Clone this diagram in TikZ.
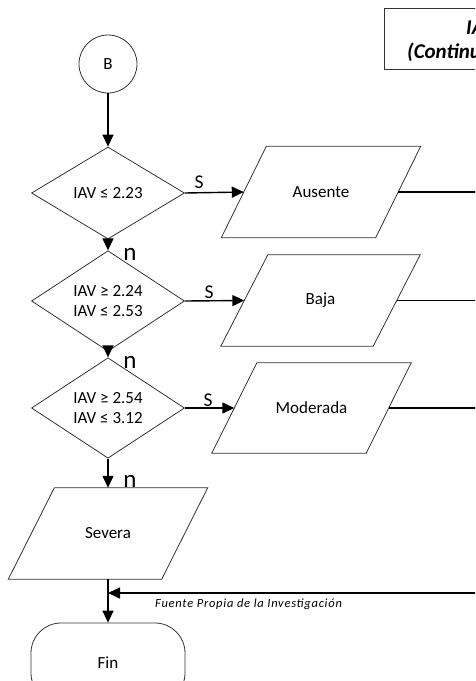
\documentclass[tikz,border=0pt]{standalone}
\usepackage{fontspec}
\setmainfont{Carlito}
\newfontfamily\srcfont[LetterSpace=6]{Carlito}
\usetikzlibrary{shapes.geometric,arrows.meta,calc}

% outline of a data (input/output) box drawn around a plain rectangle node
\newcommand\slantframe[2]{%
  \draw[outline] ([xshift=#2]#1.north west) -- (#1.north east)
    -- ([xshift=-#2]#1.south east) -- (#1.south west) -- cycle;}

\begin{document}
\begin{tikzpicture}[x=1pt,y=-1pt,
  outline/.style={draw=black!80, line width=0.8pt},
  flow/.style={line width=1.4pt, -{Triangle[length=12pt,width=11pt]}},
  wire/.style={line width=1.6pt},
  txt/.style={font=\fontsize{17}{20}\selectfont},
  decision/.style={outline, shape=diamond, minimum width=153pt,
    minimum height=92pt, inner sep=0pt, align=center, txt},
  databox/.style={minimum width=199pt, minimum height=91pt, inner sep=0pt, txt},
  lbl/.style={font=\fontsize{19.5}{22}\selectfont, inner sep=0pt},
  branch/.style={font=\fontsize{25}{25}\selectfont, inner sep=0pt},
]
\useasboundingbox (0,0) rectangle (475,681);
\clip (0,0) rectangle (475,681);

% heading box
\node[draw=black!80, line width=1.3pt, minimum width=200pt, minimum height=61pt,
  anchor=north west] (head) at (384,8) {};
\node[anchor=west, inner sep=0pt, font=\fontsize{21}{24}\selectfont\bfseries\itshape]
  (head1) at (466,28) {IAV};
\node[anchor=west, inner sep=0pt, font=\fontsize{21}{24}\selectfont\bfseries\itshape]
  (head2) at (407,52) {(Continuación)};

% main column
\node[outline, circle, minimum size=58pt, inner sep=0pt, txt] (b) at (108,64) {B};
\node[decision] (d1) at (108,193) {IAV ≤ 2.23};
\node[decision] (d2) at (108,301) {IAV ≥ 2.24\\IAV ≤ 2.53};
\node[decision] (d3) at (108,408) {IAV ≥ 2.54\\IAV ≤ 3.12};
\node[databox] (sev) at (108,533.5) {Severa};
\slantframe{sev}{46pt}
\node[outline, rounded corners=30pt, minimum width=154pt, minimum height=80pt,
  inner sep=0pt, txt] (fin) at (108,663) {Fin};

% result boxes
\node[databox] (aus) at (321,192) {Ausente};
\slantframe{aus}{45pt}
\node[databox] (baja) at (320.5,300.5) {Baja};
\slantframe{baja}{47pt}
\node[databox, minimum height=90pt] (mod) at (311.5,408) {Moderada};
\slantframe{mod}{45pt}

% vertical flow
\draw[flow] (b.south) -- (d1.north);
\draw[flow] (d1.south) -- (d2.north);
\draw[flow] (d2.south) -- (d3.north);
\draw[flow] (d3.south) -- (sev.north);
\draw[flow] (sev.south) -- (fin.north);
\node[branch] (n1) at (130,254) {n};
\node[branch] (n2) at (130,362) {n};
\node[branch] (n3) at (130,481) {n};

% yes branches
\draw[flow] (d1.east) -- ([xshift=22.5pt]aus.west);
\draw[flow] (d2.east) -- ([xshift=23.5pt]baja.west);
\draw[flow] (d3.east) -- ([xshift=22.5pt]mod.west);
\node[lbl] (s1) at (199,182) {S};
\node[lbl] (s2) at (209,292) {S};
\node[lbl] (s3) at (208,400) {S};

% return lines to the end
\coordinate (rail) at (490,593);
\coordinate (join) at (108,593);
\draw[wire] ([xshift=-22.5pt]aus.east) -- (aus.east -| rail) -- (rail);
\draw[wire] ([xshift=-23.5pt]baja.east) -- (baja.east -| rail);
\draw[wire] ([xshift=-22.5pt]mod.east) -- (mod.east -| rail);
\draw[flow] (rail) -- (join);

\node[anchor=west, inner sep=0pt, font=\srcfont\fontsize{12.5}{14}\selectfont\itshape]
  (src) at (155,604) {Fuente Propia de la Investigación};
\end{tikzpicture}
\end{document}
